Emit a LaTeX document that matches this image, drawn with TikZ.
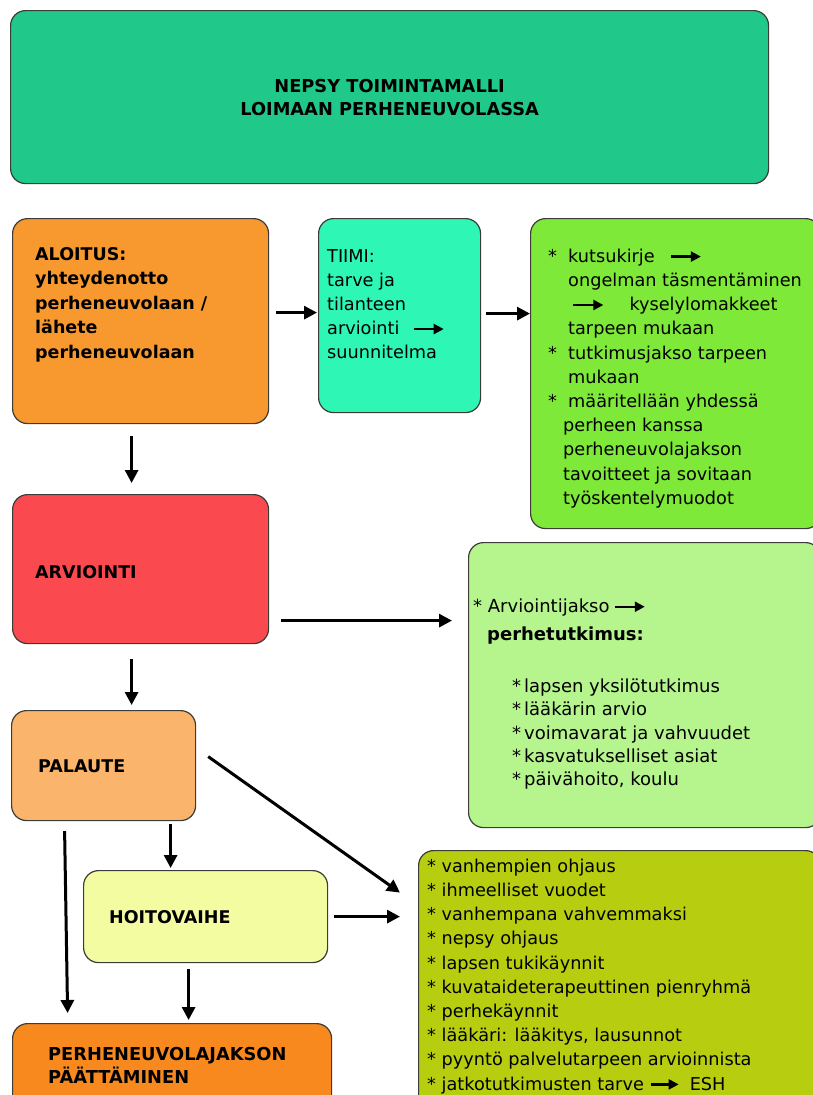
\documentclass[tikz,border=0pt]{standalone}
\usepackage{fontspec}
\setmainfont{DejaVu Sans}
\usetikzlibrary{arrows.meta,calc}

\definecolor{cTitle}{RGB}{32,201,138}
\definecolor{cStart}{RGB}{248,153,47}
\definecolor{cTeam}{RGB}{46,246,180}
\definecolor{cPlan}{RGB}{126,233,56}
\definecolor{cAssess}{RGB}{250,74,80}
\definecolor{cStudy}{RGB}{182,244,142}
\definecolor{cFeedback}{RGB}{251,180,107}
\definecolor{cCare}{RGB}{244,252,162}
\definecolor{cServices}{RGB}{183,206,16}
\definecolor{cEnd}{RGB}{248,137,31}
\definecolor{cBorder}{RGB}{60,60,55}

% body text and bold headings
\newcommand\bodyfont{\fontsize{17.7}{24.2}\selectfont}
\newcommand\headfont{\fontsize{17.5}{24.5}\selectfont\bfseries}
% small arrow used inside the running text
\newcommand\inarrow[1][30]{\tikz[baseline=-0.32em]\draw[line width=2.3pt,-{Triangle[length=10pt,width=10pt]}] (0pt,0pt) -- (#1pt,0pt);}

\begin{document}
\begin{tikzpicture}[x=1pt,y=-1pt,
  box/.style={draw=cBorder, line width=1.2pt, rounded corners=15pt, anchor=north west, inner sep=0pt},
  lbl/.style={inner sep=0pt, anchor=north west, align=left, text=black},
  arr/.style={line width=3pt, -{Triangle[length=13pt,width=13pt]}}]

\useasboundingbox (0,0) rectangle (812,1095);

% boxes
\node[box, fill=cTitle, minimum width=758pt, minimum height=173pt, align=center,
      font=\fontsize{17.8}{23}\selectfont\bfseries] (title) at (10,10)
      {NEPSY TOIMINTAMALLI\\LOIMAAN PERHENEUVOLASSA};
\node[box, fill=cStart,    minimum width=256pt, minimum height=205pt] (aloitus) at (12,218) {};
\node[box, fill=cTeam,     minimum width=162pt, minimum height=194pt] (tiimi)   at (318,218) {};
\node[box, fill=cPlan,     minimum width=290pt, minimum height=310pt] (plan)    at (530,218) {};
\node[box, fill=cAssess,   minimum width=256pt, minimum height=149pt] (arvio)   at (12,494) {};
\node[box, fill=cStudy,    minimum width=352pt, minimum height=285pt] (study)   at (468,542) {};
\node[box, fill=cFeedback, minimum width=184pt, minimum height=110pt] (palaute) at (11,710) {};
\node[box, fill=cCare,     minimum width=244pt, minimum height=92pt]  (hoito)   at (83,870) {};
\node[box, fill=cServices, minimum width=402pt, minimum height=270pt] (services) at (418,850) {};
\node[box, fill=cEnd,      minimum width=319pt, minimum height=100pt] (loppu)   at (12,1023) {};

% texts
\node[lbl, font=\headfont] (aloitusT) at (35,247)
  {ALOITUS:\\yhteydenotto\\perheneuvolaan /\\lähete\\perheneuvolaan};
\node[lbl, font=\bodyfont] (tiimiT) at (327,249)
  {TIIMI:\\tarve ja\\tilanteen\\arviointi\hspace{13pt}\inarrow\\suunnitelma};
\node[lbl, font=\bodyfont] (planT) at (548,248.6)
  {\makebox[20pt][l]{*}kutsukirje\hspace{15pt}\inarrow\\
   \hspace*{20pt}ongelman täsmentäminen\\
   \hspace*{24pt}\inarrow\hspace{25pt}kyselylomakkeet\\
   \hspace*{20pt}tarpeen mukaan\\
   \makebox[20pt][l]{*}tutkimusjakso tarpeen\\
   \hspace*{20pt}mukaan\\
   \makebox[20pt][l]{*}määritellään yhdessä\\
   \hspace*{15pt}perheen kanssa\\
   \hspace*{15pt}perheneuvolajakson\\
   \hspace*{15pt}tavoitteet ja sovitaan\\
   \hspace*{15pt}työskentelymuodot};
\node[lbl, anchor=base west, font=\headfont] (arvioT) at (35,578) {ARVIOINTI};
\node[lbl, font=\fontsize{18}{23.3}\selectfont] (studyT) at (473,598.6)
  {* Arviointijakso\hspace{4pt}\inarrow\\[4.7pt]
   \hspace*{14pt}\textbf{perhetutkimus:}\\[28.7pt]
   \hspace*{39pt}\makebox[12pt][l]{*}lapsen yksilötutkimus\\
   \hspace*{39pt}\makebox[12pt][l]{*}lääkärin arvio\\
   \hspace*{39pt}\makebox[12pt][l]{*}voimavarat ja vahvuudet\\
   \hspace*{39pt}\makebox[12pt][l]{*}kasvatukselliset asiat\\
   \hspace*{39pt}\makebox[12pt][l]{*}päivähoito, koulu};
\node[lbl, anchor=base west, font=\headfont] (palauteT) at (38,772) {PALAUTE};
\node[lbl, anchor=base west, font=\headfont] (hoitoT) at (109,923) {HOITOVAIHE};
\node[lbl, font=\bodyfont] (servicesT) at (427,858.6)
  {* vanhempien ohjaus\\
   * ihmeelliset vuodet\\
   * vanhempana vahvemmaksi\\
   * nepsy ohjaus\\
   * lapsen tukikäynnit\\
   * kuvataideterapeuttinen pienryhmä\\
   * perhekäynnit\\
   * lääkäri: lääkitys, lausunnot\\
   * pyyntö palvelutarpeen arvioinnista\\
   * jatkotutkimusten tarve \inarrow[28]\hspace{10pt}ESH};
\node[lbl, font=\fontsize{17.8}{23}\selectfont\bfseries] (loppuT) at (48,1047)
  {PERHENEUVOLAJAKSON\\PÄÄTTÄMINEN};

% connectors
\draw[arr] ($(aloitus.east)+(7,-8.5)$) -- ($(tiimi.west)+(-1,-3)$);
\draw[arr] ($(tiimi.east)+(5,-2)$) -- ($(plan.west)+(0,-60)$);
\draw[arr] ($(aloitus.south)+(-9,12)$) -- ($(arvio.north)+(-9,-11)$);
\draw[arr] ($(arvio.east)+(12,51.5)$) -- ($(study.west)+(-16,-64.5)$);
\draw[arr] ($(arvio.south)+(-9,15)$) -- ($(palaute.north)+(28,-5)$);
\draw[arr] ($(palaute.south)+(67,3)$) -- ($(hoito.north)+(-35,-2)$);
\draw[arr] ($(palaute.east)+(12,-9)$) -- ($(services.west)+(-18,-93)$);
\draw[arr] ($(hoito.east)+(6,0)$) -- ($(services.west)+(-18,-69)$);
\draw[arr] ($(palaute.south)+(-39,10)$) -- ($(loppu.north)+(-104.5,-10)$);
\draw[arr] ($(hoito.south)+(-17,6)$) -- ($(loppu.north)+(16.5,-3)$);
\end{tikzpicture}
\end{document}
